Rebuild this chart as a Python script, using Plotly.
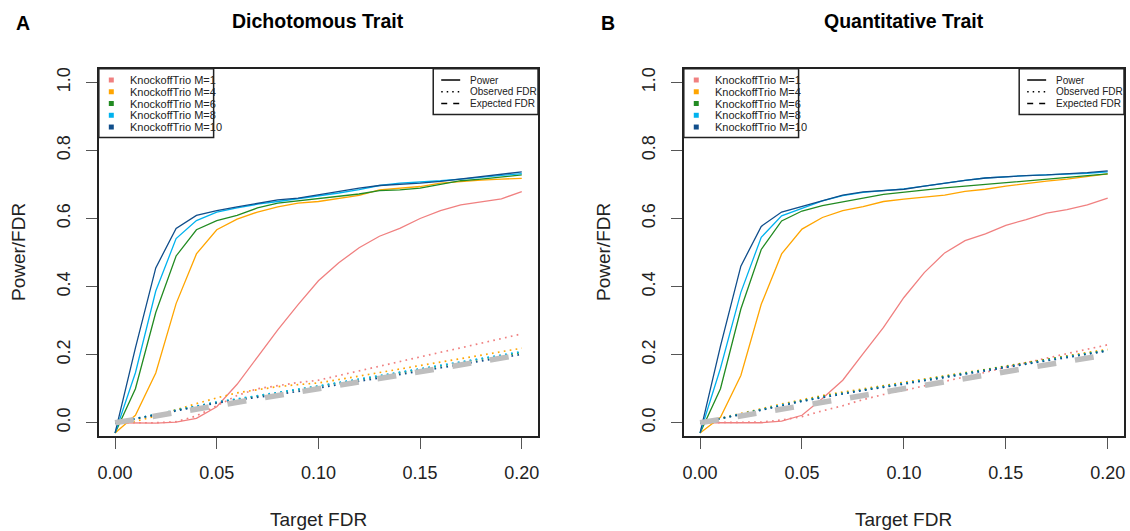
import plotly.graph_objects as go

W, H = 1130, 531

# ---------------- data ----------------
target_fdr = [0.00, 0.01, 0.02, 0.03, 0.04, 0.05, 0.06, 0.07, 0.08, 0.09, 0.10,
              0.11, 0.12, 0.13, 0.14, 0.15, 0.16, 0.17, 0.18, 0.19, 0.20]
expected_fdr = [0.00, 0.01, 0.02, 0.03, 0.04, 0.05, 0.06, 0.07, 0.08, 0.09, 0.10,
                0.11, 0.12, 0.13, 0.14, 0.15, 0.16, 0.17, 0.18, 0.19, 0.20]

series_names = ["KnockoffTrio M=1", "KnockoffTrio M=4", "KnockoffTrio M=6",
                "KnockoffTrio M=8", "KnockoffTrio M=10"]
series_colors = ["#F08080", "#FFA500", "#228B22", "#00B2EE", "#104E8B"]

# Panel A: Dichotomous trait
power_A_M1 = [0.0, -0.001, -0.001, 0.002, 0.013, 0.047, 0.113, 0.193, 0.273, 0.347, 0.417,
              0.470, 0.514, 0.548, 0.571, 0.600, 0.623, 0.640, 0.650, 0.658, 0.679]
power_A_M4 = [-0.03, 0.022, 0.146, 0.350, 0.496, 0.567, 0.598, 0.619, 0.634, 0.645, 0.650,
              0.658, 0.668, 0.684, 0.689, 0.694, 0.704, 0.709, 0.713, 0.716, 0.718]
power_A_M6 = [-0.03, 0.100, 0.324, 0.490, 0.567, 0.594, 0.609, 0.631, 0.645, 0.652, 0.660,
              0.665, 0.672, 0.682, 0.684, 0.689, 0.699, 0.711, 0.716, 0.723, 0.728]
power_A_M8 = [-0.03, 0.147, 0.387, 0.541, 0.594, 0.619, 0.631, 0.642, 0.650, 0.658, 0.666,
              0.675, 0.685, 0.697, 0.704, 0.707, 0.711, 0.716, 0.722, 0.728, 0.732]
power_A_M10 = [-0.03, 0.220, 0.455, 0.571, 0.609, 0.623, 0.634, 0.645, 0.655, 0.660, 0.670,
               0.681, 0.689, 0.697, 0.700, 0.704, 0.709, 0.716, 0.722, 0.728, 0.737]

obs_A_M1 = [0.0, 0.0, 0.0, 0.003, 0.020, 0.050, 0.080, 0.100, 0.110, 0.118, 0.125,
            0.139, 0.152, 0.166, 0.179, 0.193, 0.207, 0.220, 0.234, 0.247, 0.261]
obs_A_M4 = [0.0, 0.004, 0.020, 0.039, 0.056, 0.073, 0.088, 0.097, 0.106, 0.112, 0.117,
            0.127, 0.137, 0.147, 0.158, 0.168, 0.178, 0.188, 0.198, 0.208, 0.219]
obs_A_M6 = [0.0, 0.011, 0.024, 0.037, 0.049, 0.060, 0.069, 0.078, 0.087, 0.097, 0.107,
            0.117, 0.127, 0.137, 0.147, 0.157, 0.167, 0.177, 0.187, 0.197, 0.207]
obs_A_M8 = [0.0, 0.012, 0.025, 0.038, 0.050, 0.061, 0.070, 0.079, 0.088, 0.098, 0.108,
            0.118, 0.128, 0.138, 0.148, 0.158, 0.168, 0.178, 0.189, 0.199, 0.209]
obs_A_M10 = [0.0, 0.012, 0.024, 0.036, 0.048, 0.058, 0.066, 0.074, 0.082, 0.092, 0.102,
             0.112, 0.122, 0.131, 0.141, 0.151, 0.161, 0.171, 0.181, 0.191, 0.201]

# Panel B: Quantitative trait
power_B_M1 = [0.0, 0.0, 0.0, 0.0, 0.005, 0.022, 0.071, 0.125, 0.203, 0.280, 0.368,
              0.441, 0.499, 0.535, 0.555, 0.580, 0.597, 0.616, 0.626, 0.640, 0.660]
power_B_M4 = [-0.03, 0.016, 0.139, 0.348, 0.496, 0.569, 0.603, 0.623, 0.635, 0.650, 0.657,
              0.663, 0.669, 0.680, 0.686, 0.695, 0.703, 0.710, 0.716, 0.723, 0.731]
power_B_M6 = [-0.03, 0.100, 0.334, 0.509, 0.593, 0.622, 0.638, 0.648, 0.660, 0.671, 0.678,
              0.684, 0.690, 0.695, 0.700, 0.706, 0.711, 0.716, 0.721, 0.726, 0.731]
power_B_M8 = [-0.03, 0.160, 0.383, 0.545, 0.608, 0.631, 0.652, 0.667, 0.677, 0.682, 0.687,
              0.695, 0.704, 0.712, 0.719, 0.723, 0.726, 0.728, 0.730, 0.733, 0.737]
power_B_M10 = [-0.03, 0.225, 0.460, 0.577, 0.619, 0.636, 0.653, 0.669, 0.678, 0.682, 0.686,
               0.695, 0.704, 0.712, 0.719, 0.723, 0.726, 0.728, 0.731, 0.735, 0.740]

obs_B_M1 = [0.0, 0.0, 0.0, 0.002, 0.008, 0.018, 0.035, 0.050, 0.068, 0.083, 0.095,
            0.108, 0.120, 0.133, 0.148, 0.163, 0.177, 0.190, 0.203, 0.216, 0.229]
obs_B_M4 = [0.0, 0.013, 0.027, 0.041, 0.055, 0.068, 0.080, 0.090, 0.100, 0.109, 0.118,
            0.128, 0.138, 0.147, 0.157, 0.167, 0.177, 0.187, 0.197, 0.206, 0.216]
obs_B_M6 = [0.0, 0.012, 0.025, 0.039, 0.053, 0.065, 0.077, 0.087, 0.097, 0.106, 0.115,
            0.125, 0.135, 0.145, 0.155, 0.165, 0.175, 0.185, 0.195, 0.204, 0.213]
obs_B_M8 = [0.0, 0.012, 0.025, 0.038, 0.052, 0.064, 0.075, 0.086, 0.096, 0.105, 0.114,
            0.124, 0.134, 0.144, 0.154, 0.164, 0.174, 0.184, 0.194, 0.203, 0.212]
obs_B_M10 = [0.0, 0.011, 0.024, 0.037, 0.051, 0.063, 0.074, 0.085, 0.095, 0.104, 0.113,
             0.123, 0.133, 0.143, 0.153, 0.163, 0.173, 0.183, 0.193, 0.202, 0.211]

panel_titles = ["Dichotomous Trait", "Quantitative Trait"]
panel_letters = ["A", "B"]
x_ticks = [0.00, 0.05, 0.10, 0.15, 0.20]
x_tick_labels = ["0.00", "0.05", "0.10", "0.15", "0.20"]
y_ticks = [0.0, 0.2, 0.4, 0.6, 0.8, 1.0]
y_tick_labels = ["0.0", "0.2", "0.4", "0.6", "0.8", "1.0"]
line_legend_labels = ["Power", "Observed FDR", "Expected FDR"]

panels = [
    dict(power=[power_A_M1, power_A_M4, power_A_M6, power_A_M8, power_A_M10],
         obs=[obs_A_M1, obs_A_M4, obs_A_M6, obs_A_M8, obs_A_M10]),
    dict(power=[power_B_M1, power_B_M4, power_B_M6, power_B_M8, power_B_M10],
         obs=[obs_B_M1, obs_B_M4, obs_B_M6, obs_B_M8, obs_B_M10]),
]

# ---------------- layout geometry (pixels) ----------------
FONT = "Liberation Sans, Arial, Helvetica, sans-serif"
plot_left = [98, 684]
plot_right = [538, 1125]
plot_top, plot_bottom = 67, 436


def fx(px):
    return px / W


def fy(py):
    return 1 - py / H


fig = go.Figure()

for p, pdata in enumerate(panels):
    xa = "x" if p == 0 else "x2"
    ya = "y" if p == 0 else "y2"
    for i in range(5):
        fig.add_trace(go.Scatter(x=target_fdr, y=pdata["power"][i], mode="lines",
                                 line=dict(color=series_colors[i], width=1.3),
                                 xaxis=xa, yaxis=ya, showlegend=False, hoverinfo="skip"))
        fig.add_trace(go.Scatter(x=target_fdr, y=pdata["obs"][i], mode="lines",
                                 line=dict(color=series_colors[i], width=1.7, dash="1.7px,4.3px"),
                                 xaxis=xa, yaxis=ya, showlegend=False, hoverinfo="skip"))
    fig.add_trace(go.Scatter(x=target_fdr, y=expected_fdr, mode="lines",
                             line=dict(color="#BEBEBE", width=5.5, dash="19px,19px"),
                             xaxis=xa, yaxis=ya, showlegend=False, hoverinfo="skip"))

axis_common = dict(showgrid=False, zeroline=False, showline=True, mirror=True,
                   linecolor="#222222", linewidth=1.5, ticks="outside", ticklen=11,
                   tickwidth=1.2, tickcolor="#555555",
                   tickfont=dict(family=FONT, size=18, color="#222222"))

layout = dict(width=W, height=H, margin=dict(l=0, r=0, t=0, b=0),
              plot_bgcolor="white", paper_bgcolor="white", showlegend=False)
for p in range(2):
    sx = "" if p == 0 else "2"
    layout["xaxis" + sx] = dict(axis_common, domain=[fx(plot_left[p]), fx(plot_right[p])],
                                range=[-0.008, 0.208], tickvals=x_ticks, ticktext=x_tick_labels,
                                anchor="y" + sx, ticklabelstandoff=8)
    layout["yaxis" + sx] = dict(axis_common, domain=[fy(plot_bottom), fy(plot_top)],
                                range=[-0.04, 1.04], tickvals=y_ticks, ticktext=y_tick_labels,
                                tickangle=-90, anchor="x" + sx, ticklabelstandoff=9)
fig.update_layout(**layout)

shapes = []
annotations = []
for p in range(2):
    L, R = plot_left[p], plot_right[p]
    cx = (L + R) / 2
    annotations.append(dict(text="<b>" + panel_titles[p] + "</b>", x=fx(cx), y=fy(19),
                            xref="paper", yref="paper", showarrow=False,
                            xanchor="center", yanchor="middle",
                            font=dict(family=FONT, size=19.5, color="black")))
    annotations.append(dict(text="<b>" + panel_letters[p] + "</b>", x=fx(L - 76), y=fy(21),
                            xref="paper", yref="paper", showarrow=False,
                            xanchor="center", yanchor="middle",
                            font=dict(family=FONT, size=19.5, color="black")))
    annotations.append(dict(text="Target FDR", x=fx(cx), y=fy(519),
                            xref="paper", yref="paper", showarrow=False,
                            xanchor="center", yanchor="middle",
                            font=dict(family=FONT, size=19, color="#222222")))
    annotations.append(dict(text="Power/FDR", x=fx(L - 81), y=fy(251), textangle=-90,
                            xref="paper", yref="paper", showarrow=False,
                            xanchor="center", yanchor="middle",
                            font=dict(family=FONT, size=19, color="#222222")))
    # series legend (top-left)
    lx1 = L + 115
    shapes.append(dict(type="rect", xref="paper", yref="paper",
                       x0=fx(L), x1=fx(lx1), y0=fy(136), y1=fy(plot_top),
                       line=dict(color="#222222", width=1.5), fillcolor="white"))
    for i in range(5):
        ry = 78.3 + i * 11.8
        mx = L + 12.5
        shapes.append(dict(type="rect", xref="paper", yref="paper",
                           x0=fx(mx - 2.5), x1=fx(mx + 2.5), y0=fy(ry + 2.5), y1=fy(ry - 2.5),
                           line=dict(width=0), fillcolor=series_colors[i]))
        annotations.append(dict(text=series_names[i], x=fx(L + 29.5), y=fy(ry),
                                xref="paper", yref="paper", showarrow=False,
                                xanchor="left", yanchor="middle",
                                font=dict(family=FONT, size=11, color="#222222")))
    # line-type legend (top-right)
    rx0 = R - 105
    shapes.append(dict(type="rect", xref="paper", yref="paper",
                       x0=fx(rx0), x1=fx(R), y0=fy(113), y1=fy(plot_top),
                       line=dict(color="#222222", width=1.5), fillcolor="white"))
    dashes = ["solid", "1.5px,4px", "6px,6px"]
    for j in range(3):
        ry = 78.3 + j * 11.8
        shapes.append(dict(type="line", xref="paper", yref="paper",
                           x0=fx(rx0 + 8), x1=fx(rx0 + 27), y0=fy(ry), y1=fy(ry),
                           line=dict(color="black", width=1.5, dash=dashes[j])))
        annotations.append(dict(text=line_legend_labels[j], x=fx(rx0 + 35), y=fy(ry),
                                xref="paper", yref="paper", showarrow=False,
                                xanchor="left", yanchor="middle",
                                font=dict(family=FONT, size=10, color="#222222")))

fig.update_layout(shapes=shapes, annotations=annotations)
fig.write_html("out.html")
